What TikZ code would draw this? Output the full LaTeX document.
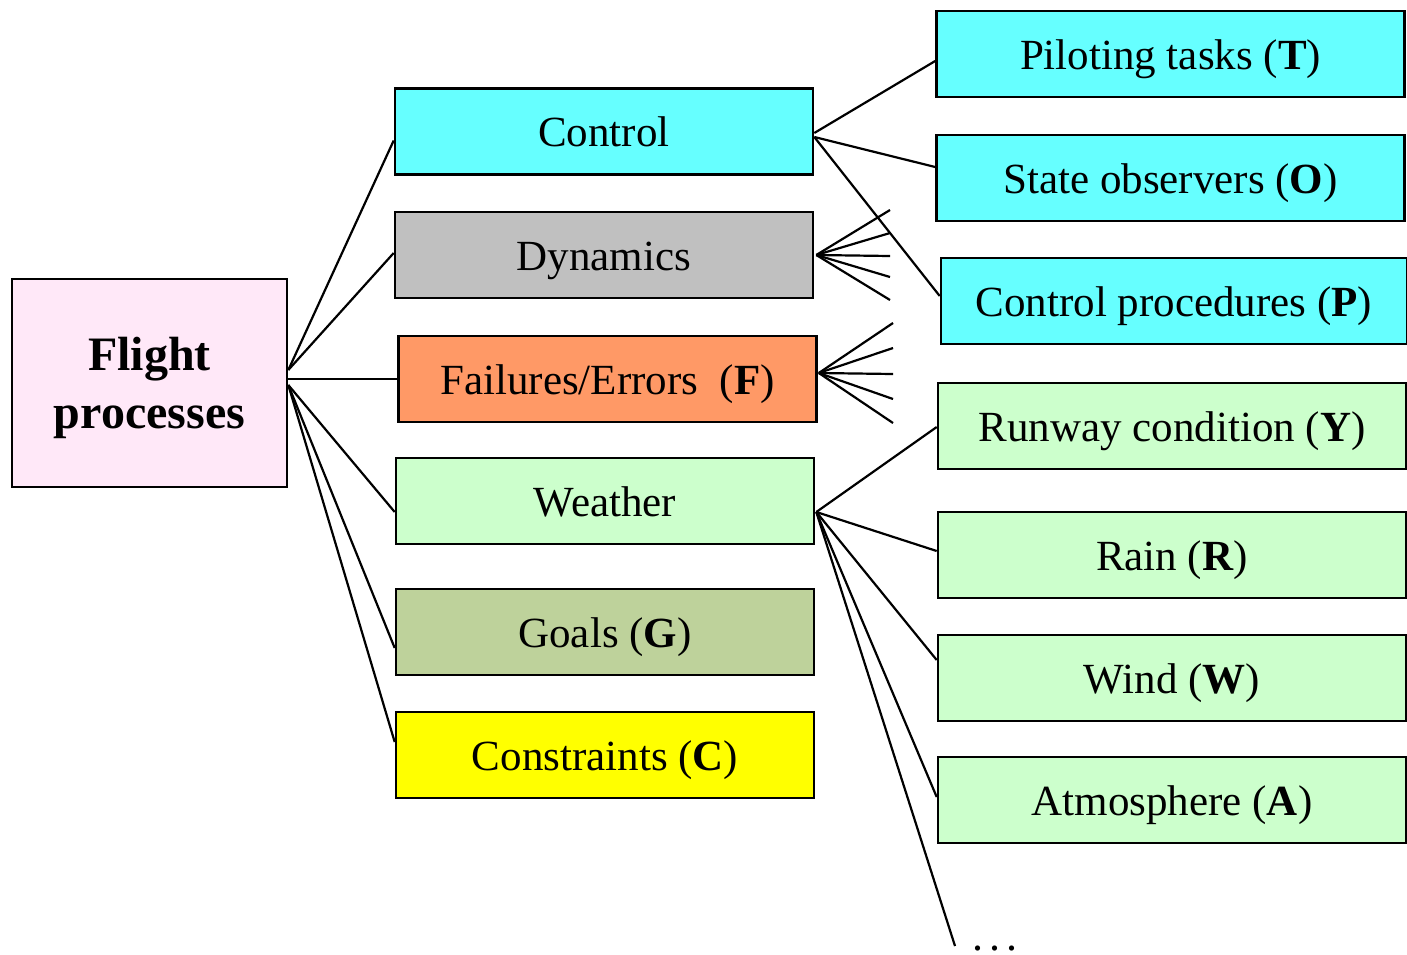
\documentclass[tikz,border=0pt]{standalone}
\usepackage{fontspec}
\setmainfont{Liberation Serif}
\usetikzlibrary{calc}
\definecolor{cyanbox}{RGB}{102,255,255}
\definecolor{graybox}{RGB}{192,192,192}
\definecolor{orangebox}{RGB}{255,153,102}
\definecolor{greenbox}{RGB}{204,255,204}
\definecolor{olivebox}{RGB}{190,210,155}
\definecolor{yellowbox}{RGB}{255,255,0}
\definecolor{pinkbox}{RGB}{255,232,248}
\tikzset{
  box/.style={draw=black, line width=2.6pt, rectangle, inner sep=0pt,
    minimum height=86pt, text height=40pt, text depth=10pt,
    font=\fontsize{43}{48}\selectfont},
  midbox/.style={box, minimum width=418pt},
  rightbox/.style={box, minimum width=468pt},
  link/.style={line width=2.2pt}
}
\begin{document}
\begin{tikzpicture}[x=1pt,y=-1pt]
\useasboundingbox (0,0) rectangle (1407,954);

% root
\node[draw=black, line width=2.6pt, fill=pinkbox, minimum width=275pt, minimum height=208pt,
  label={[yshift=-5pt, align=center, font=\fontsize{48}{58}\selectfont\bfseries]center:{Flight\\processes}}]
  (fp) at (149.5,383) {};

% middle column
\node[midbox, fill=cyanbox]   (ctl) at (604,131.5) {Control};
\node[midbox, fill=graybox]   (dyn) at (604,255)   {Dynamics};
\node[midbox, fill=orangebox] (fail) at (607.5,379) {Failures/Errors\ \ (\textbf{F})};
\node[midbox, fill=greenbox]  (wea) at (605,501)   {Weather};
\node[midbox, fill=olivebox]  (goal) at (605,632)  {Goals (\textbf{G})};
\node[midbox, fill=yellowbox] (con) at (605,755)   {Constraints (\textbf{C})};

% right column
\node[rightbox, fill=cyanbox]  (pil) at (1170.5,54)  {Piloting tasks (\textbf{T})};
\node[rightbox, fill=cyanbox]  (obs) at (1170.5,178) {State observers (\textbf{O})};
\node[rightbox, fill=cyanbox, minimum width=466pt] (proc) at (1174,301) {Control procedures (\textbf{P})};
\node[rightbox, fill=greenbox] (run) at (1172,426)  {Runway condition (\textbf{Y})};
\node[rightbox, fill=greenbox] (rain) at (1172,555) {Rain (\textbf{R})};
\node[rightbox, fill=greenbox] (wind) at (1172,678) {Wind (\textbf{W})};
\node[rightbox, fill=greenbox] (atm) at (1172,800)  {Atmosphere (\textbf{A})};

% root to middle column
\coordinate (fpup) at ($(fp.east)+(0,-13)$);
\coordinate (fplow) at ($(fp.east)+(0,2)$);
\draw[link] (fpup) -- ($(ctl.west)+(0,9)$);
\draw[link] (fpup) -- ($(dyn.west)+(0,-2)$);
\draw[link] ($(fp.east)+(0,-4)$) -- (fail.west);
\draw[link] (fplow) -- ($(wea.west)+(0,11)$);
\draw[link] (fplow) -- ($(goal.west)+(0,16)$);
\draw[link] (fplow) -- ($(con.west)+(0,-13)$);

% control branches
\draw[link] ($(ctl.east)+(0,1.5)$) -- ($(pil.west)+(0,7)$);
\draw[link] ($(ctl.east)+(0,5.5)$) -- ($(obs.west)+(0,-11)$);
\draw[link] ($(ctl.east)+(0,5.5)$) -- ($(proc.west)+(0,-5)$);

% open fans
\coordinate (dynfan) at ($(dyn.east)+(2,0)$);
\foreach \yy [count=\i] in {210,233,256,277,300} {
  \coordinate (dy\i) at (890,\yy);
  \draw[link] (dynfan) -- (dy\i);
}
\coordinate (failfan) at ($(fail.east)+(1,-6)$);
\foreach \yy [count=\i] in {323,348,374,399,423} {
  \coordinate (fa\i) at (893,\yy);
  \draw[link] (failfan) -- (fa\i);
}

% weather branches
\coordinate (weafan) at ($(wea.east)+(1,11)$);
\draw[link] (weafan) -- ($(run.west)+(0,1)$);
\draw[link] (weafan) -- ($(rain.west)+(0,-4)$);
\draw[link] (weafan) -- ($(atm.west)+(0,-3)$);
\draw[link] (weafan) -- ($(wind.west)+(0,-18)$);
\coordinate (more) at (955,946);
\draw[link] (weafan) -- (more);
\node[anchor=base west, inner sep=0pt, text height=6pt, text depth=0pt,
  font=\fontsize{44}{48}\selectfont] (dots) at (972,950) {.\hspace{6pt}.\hspace{6pt}.};
\end{tikzpicture}
\end{document}
